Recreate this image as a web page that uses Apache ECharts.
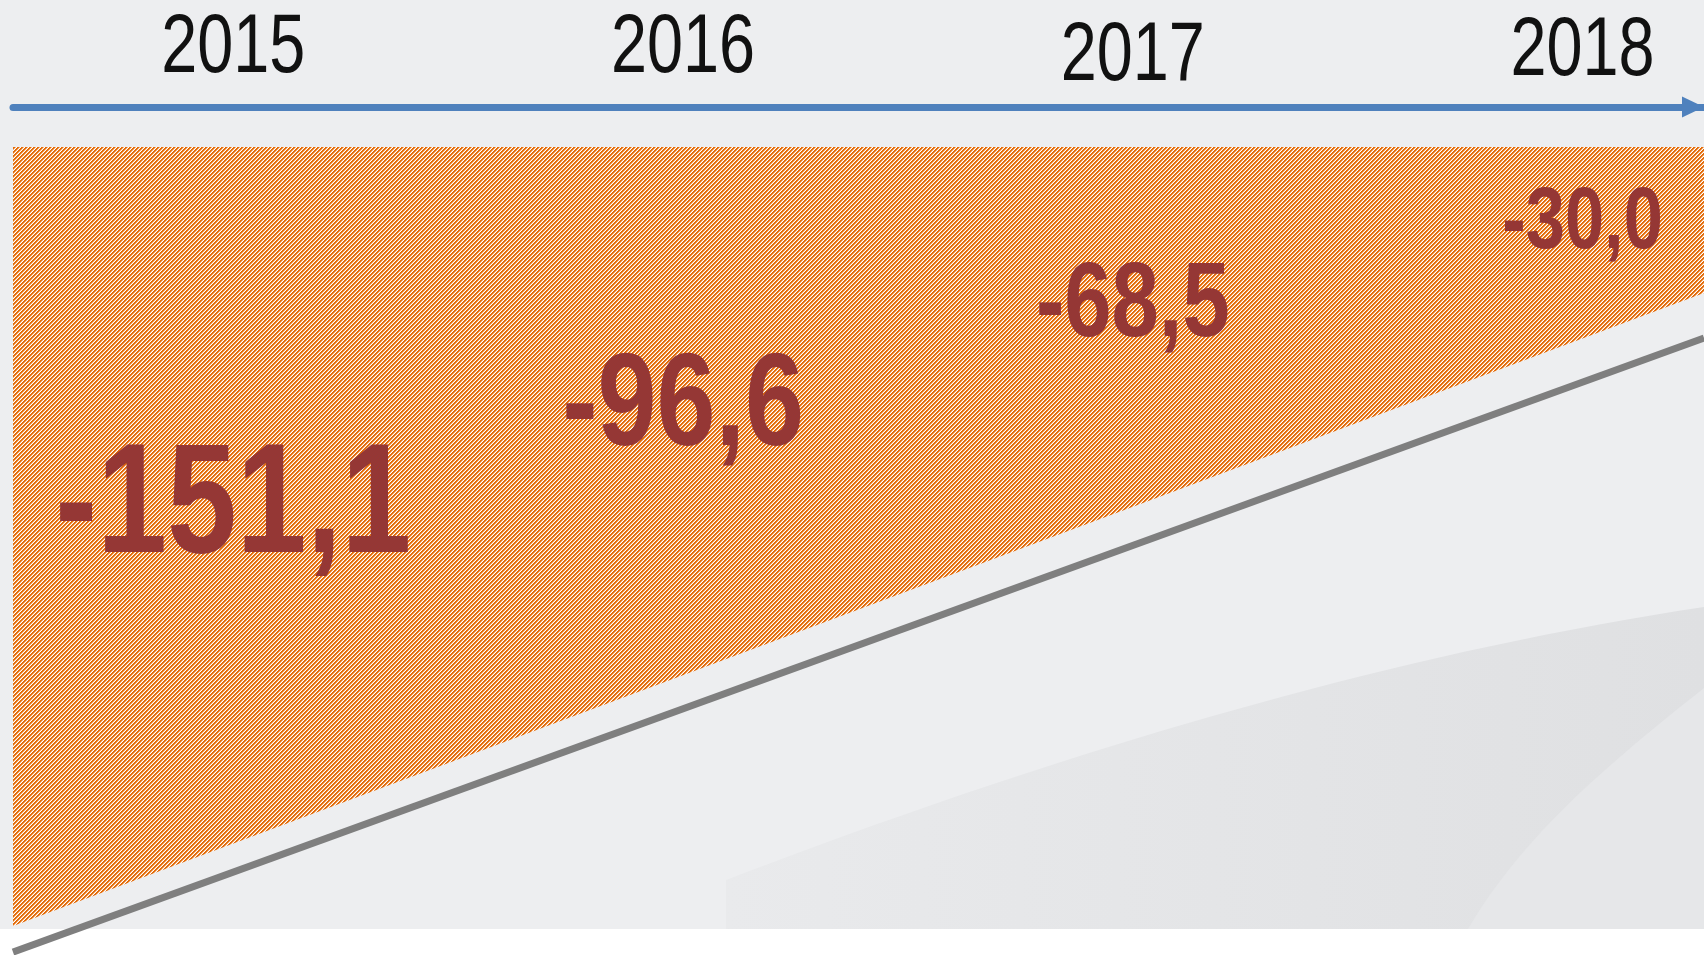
<!DOCTYPE html>
<html>
<head>
<meta charset="utf-8">
<title>Saldo 2015-2018</title>
<script src="https://cdn.jsdelivr.net/npm/echarts@6/dist/echarts.min.js"></script>
<style>
  html, body { margin: 0; padding: 0; background: #ffffff; }
  #chart { width: 1704px; height: 955px; }
</style>
</head>
<body>
<div id="chart"></div>
<script>
// ---- data ----
var YEARS = [2015, 2016, 2017, 2018];
var VALUES = [-151.1, -96.6, -68.5, -30.0];
// hatched wedge: lower edge, [year, level], flat top at 0
var WEDGE_EDGE = [[2014.51, -327.8], [2018.27, -61.4]];
// grey trend line under the wedge
var TREND_LINE = [[2014.51, -338.8], [2018.27, -80.4]];

// ---- style ----
var FONT = '"Liberation Sans", Arial, sans-serif';
var ORANGE = '#E46C0A';
var ORANGE_SOFT = '#F2B582';
var VALUE_RED = '#953735';
var AXIS_BLUE = '#4F81BD';
var YEAR_SQUEEZE = 0.78;         // original uses a narrow face
var VALUE_SQUEEZE = 0.81;
var LABEL_SIZES = [155, 131, 105, 87];
var LABEL_DY = [3, 32, -3, 6];   // small label nudges
var YEAR_SIZE = 83;
var YEAR_LIFT = 98;              // year labels above the axis
var YEAR_DY = [0, 0, 8, 3];

// 4x4 diagonal stripe tile, orange on white
function hatchPattern() {
  var c = document.createElement('canvas');
  c.width = 4; c.height = 4;
  var ctx = c.getContext('2d');
  ctx.fillStyle = '#FFFFFF';
  ctx.fillRect(0, 0, 4, 4);
  for (var x = 0; x < 4; x++) {
    for (var y = 0; y < 4; y++) {
      var k = (x + y) % 4;
      if (k < 2) { ctx.fillStyle = ORANGE; ctx.fillRect(x, y, 1, 1); }
      else if (k === 2) { ctx.fillStyle = ORANGE_SOFT; ctx.fillRect(x, y, 1, 1); }
    }
  }
  return c;
}

// sample a cubic bezier into polygon points (background decoration only)
function bezierPts(p0, p1, p2, p3, n) {
  var pts = [];
  for (var i = 0; i <= n; i++) {
    var t = i / n, u = 1 - t;
    pts.push([
      u * u * u * p0[0] + 3 * u * u * t * p1[0] + 3 * u * t * t * p2[0] + t * t * t * p3[0],
      u * u * u * p0[1] + 3 * u * u * t * p1[1] + 3 * u * t * t * p2[1] + t * t * t * p3[1]
    ]);
  }
  return pts;
}

function fmt(v) {
  return v.toFixed(1).replace('.', ',');
}

var swooshA = [[726, 929]].concat(bezierPts([726, 880], [1000, 775], [1350, 660], [1704, 607], 40)).concat([[1704, 929]]);
var swooshB = bezierPts([1468, 929], [1520, 840], [1600, 770], [1704, 688], 30).concat([[1704, 929]]);

var chart = echarts.init(document.getElementById('chart'));

var option = {
  animation: false,
  backgroundColor: '#FFFFFF',
  // background panel + soft swoosh shapes
  graphic: [
    { type: 'rect', z: -10, silent: true, shape: { x: 0, y: 0, width: 1704, height: 929 }, style: { fill: '#EDEEF0' } },
    { type: 'polygon', z: -9, silent: true, shape: { points: swooshA },
      style: { fill: new echarts.graphic.LinearGradient(0, 0, 1, 0, [
        { offset: 0, color: '#E9EAEC' }, { offset: 1, color: '#DFE0E2' }]) } },
    { type: 'polygon', z: -8, silent: true, shape: { points: swooshB }, style: { fill: '#E6E7E9' } }
  ],
  grid: { left: 13, right: 0, top: 147, bottom: 0 },
  xAxis: {
    type: 'value',
    min: 2014.51,
    max: 2018.27,
    position: 'top',
    offset: 40,
    axisLine: {
      show: true,
      onZero: false,
      lineStyle: { color: AXIS_BLUE, width: 7 },
      symbol: ['none', 'triangle'],
      symbolSize: [21, 22],
      symbolOffset: [0, -11]
    },
    axisTick: { show: false },
    splitLine: { show: false },
    axisLabel: { show: false }
  },
  yAxis: { type: 'value', min: -340, max: 0, show: false },
  series: [
    {
      name: 'wedge',
      type: 'line',
      data: WEDGE_EDGE,
      symbol: 'none',
      lineStyle: { width: 0, opacity: 0 },
      areaStyle: { origin: 'end', opacity: 1, color: { image: hatchPattern(), repeat: 'repeat' } },
      silent: true,
      z: 1
    },
    {
      name: 'trend',
      type: 'line',
      data: TREND_LINE,
      symbol: 'none',
      clip: false,
      lineStyle: { color: '#7F7F7F', width: 7 },
      silent: true,
      z: 2
    },
    {
      // year labels over the axis, narrowed like the original face
      name: 'years',
      type: 'custom',
      data: YEARS.map(function (y) { return [y, 0]; }),
      silent: true,
      z: 4,
      renderItem: function (params, api) {
        var i = params.dataIndex;
        var pt = api.coord([api.value(0), api.value(1)]);
        return {
          type: 'text',
          x: pt[0],
          y: pt[1] - YEAR_LIFT + YEAR_DY[i],
          scaleX: YEAR_SQUEEZE,
          style: {
            text: String(api.value(0)),
            fill: '#111111',
            fontFamily: FONT,
            fontSize: YEAR_SIZE,
            align: 'center',
            verticalAlign: 'middle'
          }
        };
      }
    },
    {
      name: 'saldo',
      type: 'custom',
      data: YEARS.map(function (y, i) { return [y, VALUES[i]]; }),
      silent: true,
      z: 3,
      renderItem: function (params, api) {
        var i = params.dataIndex;
        var pt = api.coord([api.value(0), api.value(1)]);
        return {
          type: 'text',
          x: pt[0],
          y: pt[1] + LABEL_DY[i],
          scaleX: VALUE_SQUEEZE,
          style: {
            text: fmt(api.value(1)),
            fill: VALUE_RED,
            fontFamily: FONT,
            fontWeight: 'bold',
            fontSize: LABEL_SIZES[i],
            align: 'center',
            verticalAlign: 'middle'
          }
        };
      }
    }
  ]
};

chart.setOption(option);
window.addEventListener('resize', function () { chart.resize(); });
</script>
</body>
</html>
